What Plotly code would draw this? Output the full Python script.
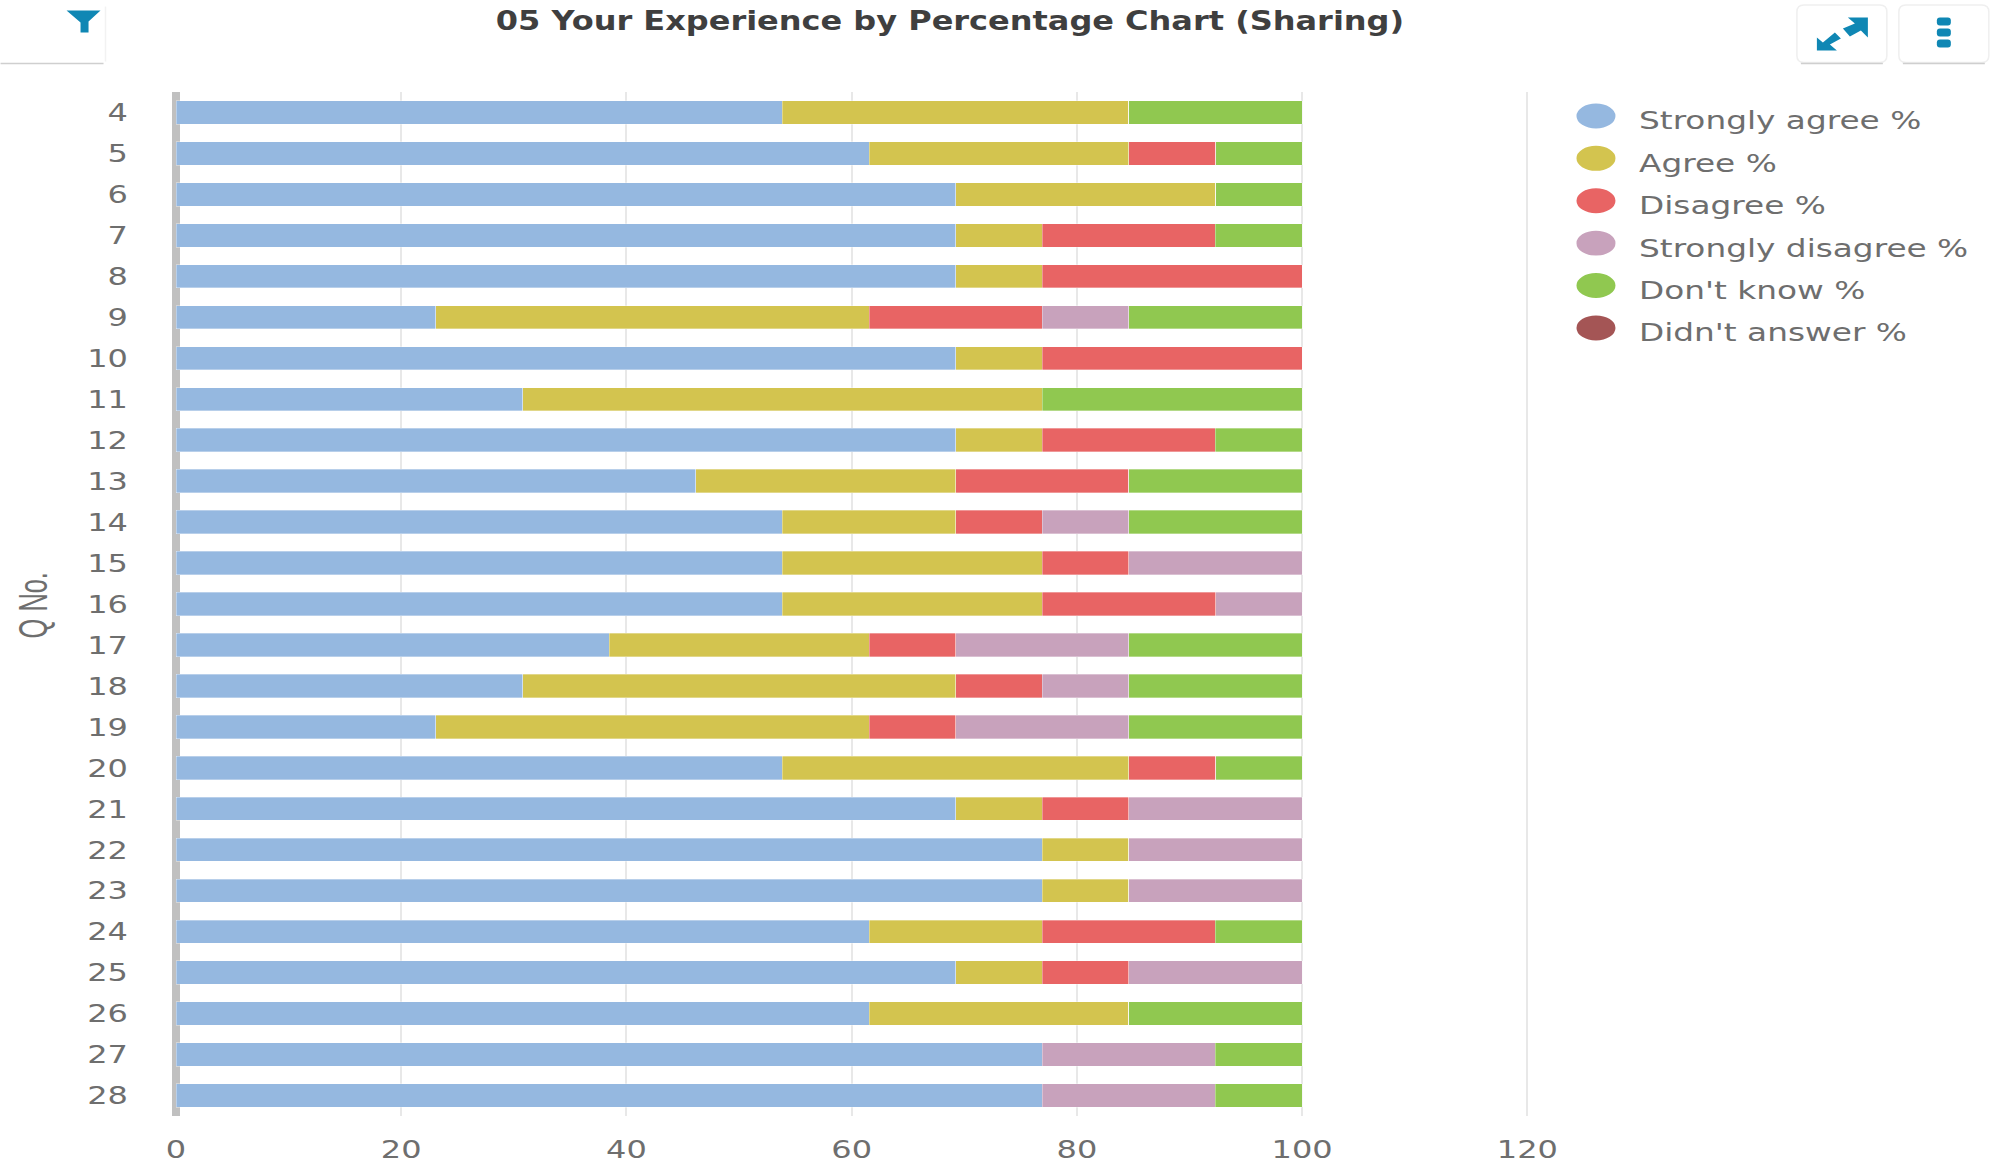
import plotly.graph_objects as go

questions = [str(q) for q in range(4, 29)]
series_names = ["Strongly agree %", "Agree %", "Disagree %", "Strongly disagree %", "Don't know %", "Didn't answer %"]
series_colors = ["#95B8E0", "#D3C44F", "#E86464", "#C8A2BC", "#90C850", "#A45555"]

strongly_agree = [53.85, 61.54, 69.23, 69.23, 69.23, 23.08, 69.23, 30.77, 69.23, 46.15, 53.85, 53.85, 53.85,
                  38.46, 30.77, 23.08, 53.85, 69.23, 76.92, 76.92, 61.54, 69.23, 61.54, 76.92, 76.92]
agree = [30.77, 23.08, 23.08, 7.69, 7.69, 38.46, 7.69, 46.15, 7.69, 23.08, 15.38, 23.08, 23.08,
         23.08, 38.46, 38.46, 30.77, 7.69, 7.69, 7.69, 15.38, 7.69, 23.08, 0, 0]
disagree = [0, 7.69, 0, 15.38, 23.08, 15.38, 23.08, 0, 15.38, 15.38, 7.69, 7.69, 15.38,
            7.69, 7.69, 7.69, 7.69, 7.69, 0, 0, 15.38, 7.69, 0, 0, 0]
strongly_disagree = [0, 0, 0, 0, 0, 7.69, 0, 0, 0, 0, 7.69, 15.38, 7.69,
                     15.38, 7.69, 15.38, 0, 15.38, 15.38, 15.38, 0, 15.38, 0, 15.38, 15.38]
dont_know = [15.38, 7.69, 7.69, 7.69, 0, 15.38, 0, 23.08, 7.69, 15.38, 15.38, 0, 0,
             15.38, 15.38, 15.38, 7.69, 0, 0, 0, 7.69, 0, 15.38, 7.69, 7.69]
didnt_answer = [0] * 25
series_values = [strongly_agree, agree, disagree, strongly_disagree, dont_know, didnt_answer]

title_text = "05 Your Experience by Percentage Chart (Sharing)"
x_ticks = [0, 20, 40, 60, 80, 100, 120]

W, H = 2000, 1166
L, R, T, B = 175.5, 1533, 91.5, 1116
TEXT = "#6e6e6e"
ICON = "#0F87B4"
FONT = "DejaVu Sans"


def px(x):
    return (x - L) / (R - L)


def py(y):
    return (B - y) / (B - T)


def shape_path(points):
    return "M" + " L".join(f"{x},{y}" for x, y in points) + " Z"


fig = go.Figure()
for name, color, values in zip(series_names, series_colors, series_values):
    fig.add_bar(y=questions, x=values, name=name, orientation="h",
                marker=dict(color=color, line=dict(width=0.6, color="rgba(255,255,255,0.55)")),
                showlegend=False)

shapes = []
annotations = []

# legend, built from the series lists so the keys can be ellipses as in the reference
for i, (name, color) in enumerate(zip(series_names, series_colors)):
    cy = 115.5 + i * 42.4
    shapes.append(dict(type="circle", xref="paper", yref="paper", layer="above",
                       x0=px(1576.5), x1=px(1615.5), y0=py(cy - 12.5), y1=py(cy + 12.5),
                       fillcolor=color, line_width=0))
    annotations.append(dict(text=name, xref="paper", yref="paper", x=px(1637), y=py(cy + 5),
                            xanchor="left", yanchor="middle", showarrow=False,
                            font=dict(family=FONT, size=25, color=TEXT)))

annotations.append(dict(text="Q No.", xref="paper", yref="paper", x=px(33), y=py(605),
                        textangle=-90, xanchor="center", yanchor="middle", showarrow=False,
                        font=dict(family="Liberation Sans", size=41, color=TEXT)))


def rounded(x0, y0, x1, y1, r, fill, line_color=None, line_width=0):
    path = (f"M{px(x0 + r)},{py(y0)} L{px(x1 - r)},{py(y0)} Q{px(x1)},{py(y0)} {px(x1)},{py(y0 + r)} "
            f"L{px(x1)},{py(y1 - r)} Q{px(x1)},{py(y1)} {px(x1 - r)},{py(y1)} L{px(x0 + r)},{py(y1)} "
            f"Q{px(x0)},{py(y1)} {px(x0)},{py(y1 - r)} L{px(x0)},{py(y0 + r)} Q{px(x0)},{py(y0)} {px(x0 + r)},{py(y0)} Z")
    shapes.append(dict(type="path", xref="paper", yref="paper", path=path, fillcolor=fill, layer="above",
                       line=dict(color=line_color or fill, width=line_width)))


def button(x0, x1):
    rounded(x0, 4.5, x1, 62, 7, "#FFFFFF", "#EFEFEF", 1.5)
    shapes.append(dict(type="line", xref="paper", yref="paper", x0=px(x0 + 4), x1=px(x1 - 4),
                       y0=py(63), y1=py(63), line=dict(color="#CFCFCF", width=1.5), layer="above"))


def poly(points, color=ICON):
    shapes.append(dict(type="path", xref="paper", yref="paper", layer="above", fillcolor=color, line_width=0,
                       path=shape_path([(px(x), py(y)) for x, y in points])))


button(1797, 1887)
button(1899, 1989)

# filter tab at the top left
shapes.append(dict(type="line", xref="paper", yref="paper", x0=px(0), x1=px(103), y0=py(63), y1=py(63),
                   line=dict(color="#CFCFCF", width=1.5), layer="above"))
shapes.append(dict(type="line", xref="paper", yref="paper", x0=px(105), x1=px(105), y0=py(6), y1=py(61),
                   line=dict(color="#F2F2F2", width=1.5), layer="above"))
poly([(66, 10), (100, 10), (88, 21), (88, 32), (80, 32), (80, 22)])

# expand icon
poly([(1848, 17), (1868, 17), (1868, 37), (1861, 30), (1850, 36), (1843, 28), (1855, 23)])
poly([(1817, 37), (1817, 50), (1837, 50), (1830, 44), (1841, 38), (1835, 32), (1823, 42)])

# three-dot icon
for cy in (21, 32, 43):
    rounded(1937, cy - 4, 1951, cy + 4, 3, ICON)

fig.update_layout(
    width=W, height=H,
    margin=dict(l=L, r=W - R, t=T, b=H - B, autoexpand=False),
    barmode="stack", bargap=0.43,
    paper_bgcolor="#FFFFFF", plot_bgcolor="#FFFFFF",
    font=dict(family=FONT, color=TEXT),
    showlegend=False,
    title=dict(text=title_text, x=950 / W, xanchor="center", xref="container",
               y=1 - 21 / H, yanchor="middle", font=dict(family=FONT, size=26, color="#3f3f3f", weight="bold")),
    shapes=shapes, annotations=annotations,
    xaxis=dict(range=[0, 120.5], tickvals=x_ticks, showgrid=True, gridcolor="#E8E8E8", gridwidth=2,
               zeroline=True, zerolinecolor="#C0C0C0", zerolinewidth=8, showline=False, ticks="",
               tickfont=dict(family=FONT, size=25, color=TEXT), ticklabelstandoff=16),
    yaxis=dict(type="category", categoryorder="array", categoryarray=questions, autorange="reversed",
               showgrid=False, zeroline=False, showline=False, ticks="",
               tickfont=dict(family=FONT, size=25, color=TEXT), ticklabelstandoff=47, tickmode="linear", dtick=1),
)

# The reference text is horizontally stretched; widen the real text glyphs to match.
stretch_js = """
document.body.style.margin='0';document.body.style.overflow='hidden';
function widen(t, k){
  var w=t.getComputedTextLength();
  t.setAttribute('textLength', w*k);
  t.setAttribute('lengthAdjust','spacingAndGlyphs');
  return w;
}
document.querySelectorAll('.gtitle').forEach(function(t){widen(t,1.23);});
document.querySelectorAll('.xtick text, .ytick text').forEach(function(t){widen(t,1.28);});
document.querySelectorAll('.annotation-text').forEach(function(t){
  if(t.textContent.indexOf('%')>=0){
    var w=widen(t,1.31);
    t.setAttribute('x', parseFloat(t.getAttribute('x'))-w/2);
    t.setAttribute('text-anchor','start');
    t.style.textAnchor='start';
  } else {
    widen(t,0.62);
  }
});
"""
fig.write_html("out.html", config=dict(displayModeBar=False), post_script=stretch_js)
